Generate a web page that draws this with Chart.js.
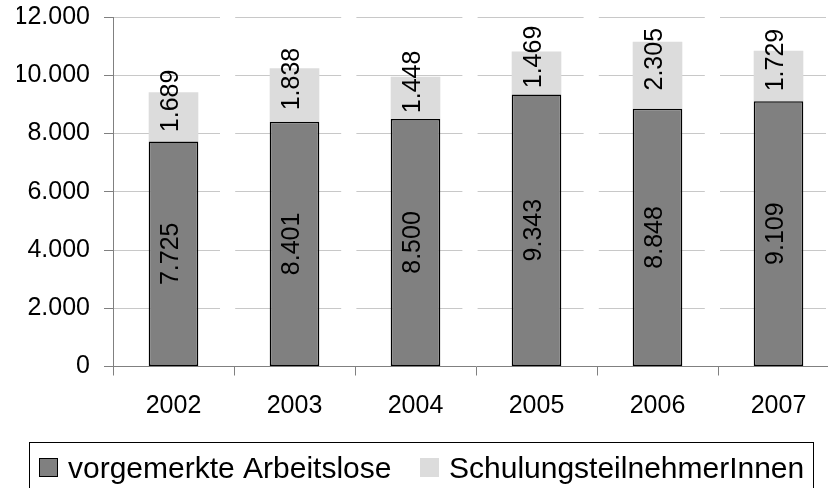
<!DOCTYPE html>
<html>
<head>
<meta charset="utf-8">
<script src="https://cdn.jsdelivr.net/npm/chart.js@4.4.1/dist/chart.umd.min.js"></script>
<style>
    html, body { margin: 0; padding: 0; background: #fff; overflow: hidden; }
    #wrap { width: 828px; height: 488px; overflow: hidden; position: relative; }
    canvas { display: block; }
</style>
</head>
<body>
<div id="wrap"><canvas id="chart" width="850" height="488"></canvas></div>
<script>
// Daten
const years = ['2002', '2003', '2004', '2005', '2006', '2007'];
const arbeitslose = [7725, 8401, 8500, 9343, 8848, 9109];
const schulung = [1689, 1838, 1448, 1469, 2305, 1729];
const seriesNames = ['vorgemerkte Arbeitslose', 'SchulungsteilnehmerInnen'];

const FONT = '"Liberation Sans", Arial, Helvetica, sans-serif';

function fmt(n) {
    // Tausenderpunkt wie im Original
    return String(n).replace(/\B(?=(\d{3})+(?!\d))/g, '.');
}

// Werte gedreht in die Balken schreiben
const barLabels = {
    id: 'barLabels',
    afterDatasetsDraw(chart) {
        const ctx = chart.ctx;
        ctx.save();
        ctx.font = '25px ' + FONT;
        ctx.fillStyle = '#000';
        ctx.textAlign = 'center';
        ctx.textBaseline = 'middle';
        chart.data.datasets.forEach((ds, i) => {
            const meta = chart.getDatasetMeta(i);
            const shift = i === 1 ? -16 : 0; // obere Beschriftung sitzt etwas höher
            meta.data.forEach((bar, j) => {
                const p = bar.getProps(['x', 'y', 'base'], true);
                ctx.save();
                ctx.translate(p.x - 2, (p.y + p.base) / 2 + shift);
                ctx.rotate(-Math.PI / 2);
                ctx.fillText(fmt(ds.data[j]), 0, 0);
                ctx.restore();
            });
        });
        ctx.restore();
    }
};

// Legende mit Rahmen unten
const legendX = [39, 420];
const boxedLegend = {
    id: 'boxedLegend',
    afterDraw(chart) {
        const ctx = chart.ctx;
        ctx.save();
        ctx.strokeStyle = '#000';
        ctx.lineWidth = 1;
        ctx.strokeRect(29.5, 442.5, 784, 80);
        ctx.font = '30px ' + FONT;
        ctx.textBaseline = 'alphabetic';
        ctx.textAlign = 'left';
        chart.data.datasets.forEach((ds, i) => {
            const x = legendX[i];
            ctx.fillStyle = ds.backgroundColor;
            ctx.fillRect(x, 458, 19, 19);
            if (ds.borderWidth) {
                ctx.strokeStyle = ds.borderColor;
                ctx.strokeRect(x + 0.5, 458.5, 18, 18);
            }
            ctx.fillStyle = '#000';
            ctx.fillText(ds.label, x + 29, 478);
        });
        ctx.restore();
    }
};

new Chart(document.getElementById('chart'), {
    type: 'bar',
    data: {
        labels: years,
        datasets: [
            {
                label: seriesNames[0],
                data: arbeitslose,
                backgroundColor: '#808080',
                borderColor: '#000000',
                borderWidth: 1.5,
                borderSkipped: false,
                barPercentage: 0.41,
                categoryPercentage: 1
            },
            {
                label: seriesNames[1],
                data: schulung,
                backgroundColor: '#dcdcdc',
                borderWidth: 0,
                barPercentage: 0.41,
                categoryPercentage: 1
            }
        ]
    },
    options: {
        responsive: false,
        animation: false,
        devicePixelRatio: 1,
        layout: { padding: { left: 17, right: 11, top: 17, bottom: 66.5 } },
        plugins: {
            legend: { display: false },
            tooltip: { enabled: false }
        },
        scales: {
            x: {
                stacked: true,
                afterFit: s => { s.height = 55; },
                grid: { offset: true, drawOnChartArea: false, color: '#808080', tickLength: 9 },
                border: { color: '#808080', width: 1 },
                ticks: { color: '#000', font: { family: FONT, size: 25 }, padding: 16, maxRotation: 0 }
            },
            y: {
                stacked: true,
                min: 0,
                max: 12000,
                afterFit: s => { s.width = 96; s.paddingTop = 0; s.paddingBottom = 0; },
                grid: { color: '#c8c8c8', tickColor: '#808080', tickLength: 9 },
                border: { color: '#808080', width: 1, dash: [106, 15.2] },
                ticks: {
                    stepSize: 2000,
                    color: '#000',
                    font: { family: FONT, size: 25 },
                    padding: 14,
                    callback: v => fmt(v)
                }
            }
        }
    },
    plugins: [barLabels, boxedLegend]
});
</script>
</body>
</html>
